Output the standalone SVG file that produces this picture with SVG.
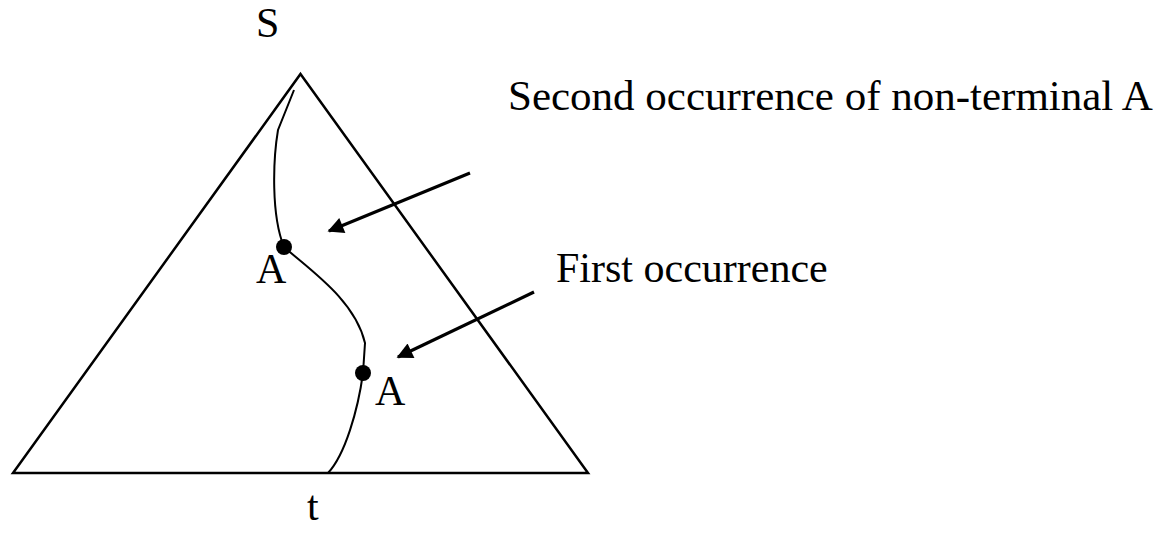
<svg xmlns="http://www.w3.org/2000/svg" width="1165" height="534" viewBox="0 0 1165 534">
<style>
.ln{fill:none;stroke:#000;stroke-width:2.5}
.cv{fill:none;stroke:#000;stroke-width:2}
.ar{fill:none;stroke:#000;stroke-width:3.2}
</style>
<defs>
<marker id="ah" viewBox="0 0 10 10" refX="9" refY="5" markerWidth="6.5" markerHeight="5" orient="auto" markerUnits="strokeWidth">
<path d="M0,0 L10,5 L0,10 Z" fill="#000"/>
</marker>
</defs>
<rect width="1165" height="534" fill="#fff"/>
<g id="tree">
<path class="ln" d="M300.5,74 L588,473 L13,473 Z" stroke-linejoin="miter"/>
</g>
<g id="path">
<path class="cv" d="M294,90 L278,130 C273,160 271,215 284,247 C310,270 355,300 365,343 L363,373 C358,410 345,455 328,473"/>
</g>
<g font-family="'Liberation Serif', 'Times New Roman', Times, 'DejaVu Serif', serif" font-size="42" fill="#000">
<g id="nodeA2">
<circle cx="284" cy="247" r="8"/>
<text x="256" y="283">A</text>
</g>
<g id="nodeA1">
<circle cx="363" cy="373" r="8"/>
<text x="375" y="405">A</text>
</g>
<g id="labels">
<text x="256" y="37">S</text>
<text x="307" y="520">t</text>
<text x="508" y="110" font-size="43">Second occurrence of non-terminal A</text>
<text x="556" y="282">First occurrence</text>
</g>
</g>
<g id="connectors">
<line class="ar" x1="470" y1="173" x2="329" y2="231" marker-end="url(#ah)"/>
<line class="ar" x1="534" y1="292" x2="398" y2="357" marker-end="url(#ah)"/>
</g>
</svg>
